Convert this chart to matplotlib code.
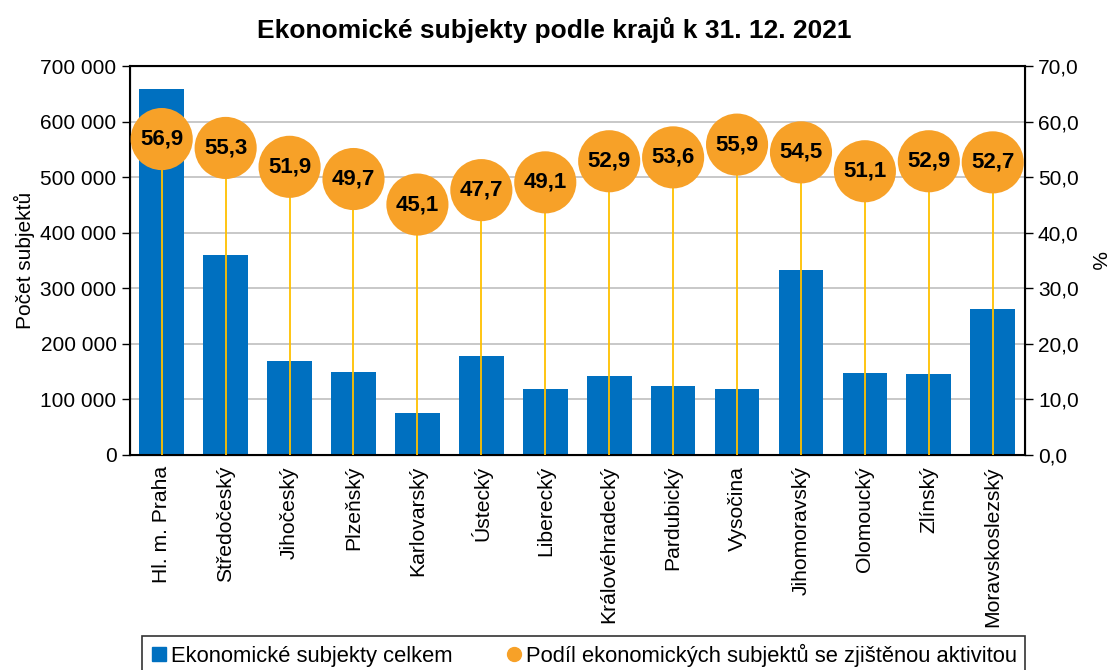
import numpy as np
import matplotlib.pyplot as plt
from matplotlib.ticker import FuncFormatter
from matplotlib.lines import Line2D

plt.rcParams['font.family'] = ['Liberation Sans', 'DejaVu Sans']

kraje = ["Hl. m. Praha", "Středočeský", "Jihočeský", "Plzeňský", "Karlovarský",
         "Ústecký", "Liberecký", "Královéhradecký", "Pardubický", "Vysočina",
         "Jihomoravský", "Olomoucký", "Zlínský", "Moravskoslezský"]
subjekty = [660000, 360000, 169000, 149000, 75000, 179000, 119000,
            143000, 125000, 119000, 333000, 148000, 146000, 263000]
podil = [56.9, 55.3, 51.9, 49.7, 45.1, 47.7, 49.1,
         52.9, 53.6, 55.9, 54.5, 51.1, 52.9, 52.7]

BLUE = "#0070C0"
ORANGE = "#F7A128"
YELLOW = "#FFC000"

fig = plt.figure(figsize=(11.09, 6.70), dpi=100)
ax = fig.add_axes([0.117, 0.321, 0.807, 0.580])
x = np.arange(len(kraje))

ax.bar(x, subjekty, width=0.7, color=BLUE, zorder=2)
ax.set_ylim(0, 700000)
ax.set_xlim(-0.5, len(kraje) - 0.5)
ax.set_yticks(np.arange(0, 700001, 100000))
ax.yaxis.set_major_formatter(FuncFormatter(lambda v, p: f"{int(v):,}".replace(",", " ")))
ax.grid(axis="y", color="#BFBFBF", lw=1.2, zorder=0)
ax.set_axisbelow(True)
ax.set_xticks(x)
ax.set_xticklabels(kraje, rotation=90, fontsize=15.2)
ax.tick_params(axis="y", labelsize=15, length=6, width=1)
ax.tick_params(axis="x", length=0, pad=8)
ax.set_ylabel("Počet subjektů", fontsize=15, labelpad=4)
for s in ax.spines.values():
    s.set_linewidth(1.5)

ax2 = ax.twinx()
ax2.set_ylim(0, 70)
ax2.set_yticks(np.arange(0, 71, 10))
ax2.yaxis.set_major_formatter(FuncFormatter(lambda v, p: f"{v:.1f}".replace(".", ",")))
ax2.tick_params(axis="y", labelsize=15, length=6, width=1)
ax2.set_ylabel("%", fontsize=15, rotation=270, labelpad=20)
ax2.vlines(x, 0, podil, color=YELLOW, lw=1.3, zorder=3)
ax2.scatter(x, podil, s=2000, color=ORANGE, zorder=4, edgecolors="none")
for xi, v in zip(x, podil):
    ax2.text(xi, v, f"{v:.1f}".replace(".", ","), ha="center", va="center",
             fontsize=16, fontweight="bold", zorder=5)

fig.suptitle("Ekonomické subjekty podle krajů k 31. 12. 2021", fontsize=19,
             fontweight="bold", y=0.975)

handles = [Line2D([], [], marker="s", color=BLUE, ls="none", markersize=10),
           Line2D([], [], marker="o", color=ORANGE, ls="none", markersize=10)]
leg = fig.legend(handles, ["Ekonomické subjekty celkem",
                           "Podíl ekonomických subjektů se zjištěnou aktivitou"],
                 loc="upper center", bbox_to_anchor=(0.526, 0.051), ncol=2,
                 fontsize=15.8, frameon=True, fancybox=False, edgecolor="black",
                 handlelength=0.8, handletextpad=0.15, columnspacing=2.4,
                 borderpad=0.35, borderaxespad=0.0)
leg.get_frame().set_linewidth(1.2)
leg.get_frame().set_boxstyle("square", pad=0)

fig.savefig("out.png", dpi=100)
